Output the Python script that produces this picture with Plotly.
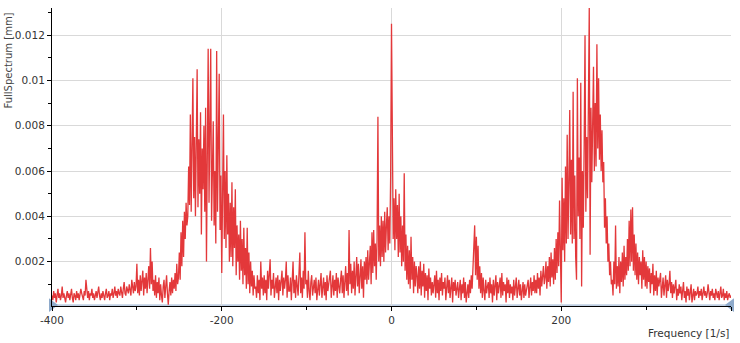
import numpy as np
import plotly.graph_objects as go

# Frequency grid [1/s] (1 Hz spacing, -400 .. 400)
freq = np.arange(-400, 401, 1)

# Spectrum amplitude in units of 1e-4 mm (10 values per 10 Hz)
baseline_left = [  # -400 .. -301
    5, 3, 7, 4, 6, 2, 5, 8, 4, 6,
    3, 5, 9, 4, 6, 3, 2, 5, 7, 4,
    6, 3, 5, 8, 4, 2, 6, 5, 3, 7,
    4, 6, 3, 5, 8, 6, 4, 3, 7, 5,
    12, 5, 4, 7, 3, 6, 5, 8, 4, 6,
    3, 5, 7, 4, 6, 9, 5, 3, 6, 4,
    7, 5, 3, 6, 8, 4, 5, 7, 3, 6,
    5, 8, 4, 6, 9, 5, 7, 4, 8, 6,
    5, 9, 6, 4, 8, 11, 6, 5, 9, 7,
    6, 10, 7, 5, 12, 8, 6, 11, 7, 9,
]
rise_left = [  # -300 .. -241
    19, 6, 12, 5, 14, 7, 11, 16, 5, 13,
    8, 15, 6, 14, 18, 8, 26, 10, 20, 7,
    12, 5, 14, 4, 11, 6, 13, 3, 10, 5,
    2, 9, 12, 4, 8, 14, 6, 1, 7, 11,
    5, 13, 6, 12, 8, 15, 7, 19, 10, 13,
    24, 12, 33, 18, 38, 22, 42, 30, 46, 36,
]
peak_left = [  # -240 .. -161
    40, 62, 45, 85, 42, 70, 101, 48, 75, 40,
    68, 105, 44, 74, 50, 86, 32, 70, 52, 80,
    42, 88, 20, 70, 114, 46, 76, 114, 38, 66,
    82, 36, 60, 28, 113, 42, 64, 103, 34, 58,
    15, 52, 85, 30, 60, 26, 67, 32, 50, 20,
    46, 22, 55, 18, 44, 26, 52, 14, 36, 20,
    32, 12, 38, 16, 30, 10, 35, 14, 26, 8,
    35, 10, 24, 6, 20, 9, 16, 5, 14, 8,
]
mid_left = [  # -160 .. -31
    9, 4, 14, 6, 12, 3, 20, 8, 13, 5,
    14, 6, 12, 3, 16, 8, 13, 21, 5, 12,
    8, 15, 4, 11, 13, 6, 14, 3, 12, 7,
    11, 16, 5, 13, 8, 12, 20, 4, 14, 7,
    7, 13, 3, 11, 20, 6, 12, 4, 14, 9,
    5, 15, 24, 6, 13, 4, 16, 8, 33, 10,
    12, 4, 16, 7, 3, 11, 14, 5, 9, 12,
    6, 13, 3, 9, 12, 5, 11, 15, 4, 10,
    13, 5, 11, 3, 14, 7, 10, 12, 16, 4,
    11, 14, 5, 12, 7, 15, 4, 13, 9, 6,
    12, 16, 6, 14, 4, 13, 18, 7, 15, 5,
    34, 10, 19, 6, 16, 8, 20, 5, 17, 22,
    9, 19, 6, 17, 21, 8, 18, 4, 20, 12,
]
center = [  # -30 .. 29
    22, 10, 25, 12, 19, 27, 10, 33, 15, 34,
    18, 28, 12, 30, 84, 20, 36, 18, 40, 22,
    38, 20, 42, 24, 36, 44, 25, 40, 28, 58,
    125, 64, 30, 48, 25, 52, 30, 45, 22, 50,
    24, 40, 18, 36, 20, 59, 16, 32, 12, 27,
    10, 25, 8, 31, 12, 22, 6, 20, 9, 18,
]
mid_right = [  # 30 .. 189
    14, 6, 18, 8, 20, 5, 16, 9, 19, 4,
    15, 7, 14, 3, 17, 8, 13, 5, 11, 6,
    9, 14, 4, 16, 6, 12, 3, 13, 7, 15,
    5, 11, 8, 13, 3, 10, 14, 6, 12, 4,
    9, 13, 2, 11, 7, 12, 5, 9, 11, 4,
    7, 12, 3, 10, 6, 13, 4, 11, 2, 8,
    10, 4, 12, 6, 14, 8, 17, 22, 36, 14,
    31, 12, 27, 8, 18, 6, 15, 4, 13, 7,
    3, 12, 6, 9, 11, 4, 13, 6, 10, 2,
    12, 5, 10, 14, 3, 11, 6, 9, 13, 4,
    15, 5, 11, 7, 10, 2, 13, 6, 12, 4,
    10, 6, 9, 3, 12, 5, 11, 13, 4, 7,
    12, 5, 10, 3, 9, 11, 4, 10, 5, 8,
    9, 12, 4, 10, 13, 5, 11, 7, 14, 6,
    12, 6, 15, 8, 13, 5, 16, 9, 14, 18,
    10, 13, 20, 8, 18, 11, 22, 9, 24, 13,
]
peak_right = [  # 190 .. 259
    21, 10, 26, 12, 30, 15, 33, 18, 47, 20,
    2, 57, 25, 48, 20, 62, 28, 76, 30, 55,
    87, 32, 65, 28, 95, 30, 58, 22, 12, 101,
    40, 66, 30, 99, 9, 60, 35, 72, 120, 42,
    75, 48, 85, 132, 23, 88, 55, 80, 106, 60,
    90, 62, 116, 70, 101, 65, 85, 60, 78, 55,
    64, 35, 48, 28, 40, 20, 28, 14, 20, 10,
]
tail_right = [  # 260 .. 400
    12, 5, 20, 10, 36, 8, 18, 9, 22, 6,
    20, 11, 24, 9, 27, 12, 22, 14, 30, 16,
    38, 18, 43, 20, 44, 16, 32, 14, 28, 12,
    24, 10, 22, 14, 20, 8, 25, 12, 22, 9,
    20, 8, 18, 11, 17, 6, 15, 10, 19, 5,
    14, 7, 16, 5, 13, 9, 12, 15, 4, 11,
    13, 5, 11, 14, 4, 12, 7, 10, 16, 6,
    11, 4, 10, 6, 9, 12, 3, 8, 5, 10,
    6, 9, 3, 8, 11, 4, 7, 2, 9, 5,
    8, 3, 7, 10, 2, 6, 8, 3, 7, 5,
    6, 9, 4, 7, 5, 8, 3, 6, 9, 5,
    7, 4, 6, 10, 5, 3, 7, 5, 8, 4,
    6, 3, 8, 5, 4, 7, 3, 6, 9, 4,
    5, 8, 3, 6, 4, 7, 3, 5, 6, 4,
    5,
]
amp_e4 = (baseline_left + rise_left + peak_left + mid_left + center
          + mid_right + peak_right + tail_right)
assert len(amp_e4) == len(freq), len(amp_e4)
amp_mm = [v * 1e-4 for v in amp_e4]

y_ticks = [0.002, 0.004, 0.006, 0.008, 0.010, 0.012]
y_tick_labels = ["0.002", "0.004", "0.006", "0.008", "0.01", "0.012"]
x_ticks = [-400, -200, 0, 200, 400]
x_tick_labels = ["-400", "-200", "0", "200", "400"]

Y_MIN, Y_MAX = 0.00004, 0.0132
LINE_RED = "#e3383a"
FONT = "DejaVu Sans"

fig = go.Figure()
fig.add_trace(go.Scatter(
    x=freq, y=amp_mm, mode="lines",
    line=dict(color=LINE_RED, width=1.3),
    hoverinfo="skip", showlegend=False,
))
# range end markers (triangles)
fig.add_trace(go.Scatter(
    x=[-400, 400], y=[Y_MIN + 0.00004, Y_MIN + 0.00004], mode="markers",
    marker=dict(symbol=["triangle-right", "triangle-left"], size=12,
                color="#8eaacb", line=dict(width=0)),
    cliponaxis=False, hoverinfo="skip", showlegend=False,
))
# thin blue range line just above the axis
fig.add_shape(type="line", xref="x", yref="y", x0=-400, x1=400,
              y0=Y_MIN + 0.00004, y1=Y_MIN + 0.00004,
              line=dict(color="#8eaacb", width=1), layer="below")

fig.update_layout(
    width=740, height=343,
    margin=dict(l=52, r=9, t=8, b=37),
    paper_bgcolor="white", plot_bgcolor="white",
    font=dict(family=FONT, size=10, color="#333333"),
    xaxis=dict(
        range=[-400, 400], tickvals=x_ticks, ticktext=x_tick_labels,
        showgrid=True, gridcolor="#d9d9d9", gridwidth=1,
        showline=True, linecolor="black", linewidth=1,
        ticks="outside", ticklen=4, tickcolor="black",
        minor=dict(tickvals=[-300, -100, 100, 300], ticks="outside",
                   ticklen=3, tickcolor="black", showgrid=False),
        zeroline=False, tickfont=dict(size=10.5, color="#333333"),
    ),
    yaxis=dict(
        range=[Y_MIN, Y_MAX], tickvals=y_ticks, ticktext=y_tick_labels,
        showgrid=True, gridcolor="#d9d9d9", gridwidth=1,
        showline=True, linecolor="black", linewidth=1,
        ticks="outside", ticklen=4, tickcolor="black",
        minor=dict(tickvals=[0.001, 0.003, 0.005, 0.007, 0.009, 0.011, 0.013],
                   ticks="outside", ticklen=3, tickcolor="black", showgrid=False),
        zeroline=False, tickfont=dict(size=10.5, color="#333333"),
    ),
    annotations=[
        dict(text="FullSpectrum [mm]", textangle=-90, xref="paper", yref="paper",
             x=-52 / 679, y=1 - 2 / 298, xanchor="left", yanchor="top",
             showarrow=False, font=dict(family=FONT, size=10, color="#444444")),
        dict(text="Frequency [1/s]", xref="paper", yref="paper",
             x=1.0, y=-27 / 298, xanchor="right", yanchor="middle",
             showarrow=False, font=dict(family=FONT, size=10.5, color="#333333")),
    ],
)

fig.write_html("out.html")
